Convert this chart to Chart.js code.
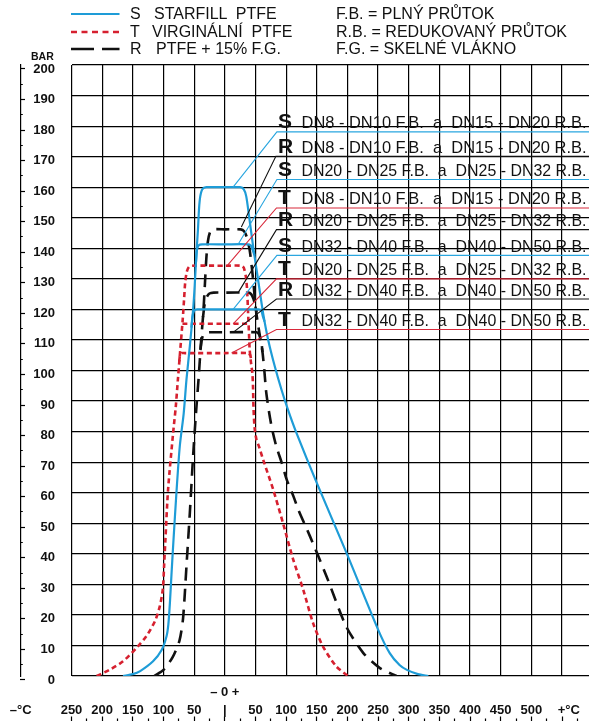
<!DOCTYPE html>
<html>
<head>
<meta charset="utf-8">
<script src="https://cdn.jsdelivr.net/npm/chart.js@4.4.1/dist/chart.umd.min.js"></script>
<style>
  body { margin: 0; background: #fff; }
  #wrap { position: relative; width: 589px; height: 721px; overflow: hidden;
          font-family: "Liberation Sans", Arial, sans-serif; color: #111; }
  #chart { position: absolute; left: 0; top: 0; }
  .lg { position: absolute; font-size: 16px; line-height: 16px; white-space: pre; }
  .bar { position: absolute; left: 31px; top: 50px; font-size: 10.5px; font-weight: bold; }
</style>
</head>
<body>
<div id="wrap">
  <canvas id="chart" width="589" height="721"></canvas>
  <svg width="130" height="60" style="position:absolute;left:0;top:0">
    <line x1="71" y1="14" x2="119.5" y2="14" stroke="#1E9CD7" stroke-width="2.2"/>
    <line x1="71" y1="32" x2="119.5" y2="32" stroke="#D6202F" stroke-width="2.6" stroke-dasharray="6 4.5"/>
    <line x1="71" y1="49" x2="119.5" y2="49" stroke="#111" stroke-width="2.6" stroke-dasharray="23 8"/>
  </svg>
  <div class="lg" style="left:130px;top:6px">S</div>
  <div class="lg" style="left:154px;top:6px">STARFILL  PTFE</div>
  <div class="lg" style="left:130px;top:24px">T</div>
  <div class="lg" style="left:152px;top:24px">VIRGINÁLNÍ  PTFE</div>
  <div class="lg" style="left:130px;top:41px">R</div>
  <div class="lg" style="left:156px;top:41px">PTFE + 15% F.G.</div>
  <div class="lg" style="left:336px;top:6px">F.B. = PLNÝ PRŮTOK</div>
  <div class="lg" style="left:336px;top:24px">R.B. = REDUKOVANÝ PRŮTOK</div>
  <div class="lg" style="left:336px;top:41px">F.G. = SKELNÉ VLÁKNO</div>
  <div class="bar">BAR</div>
</div>
<script>
// temperatures in °C, pressures in bar
const sDn8Temp = [-166, -150, -138, -117, -103, -95, -92, -89.5, -87, -84.3, -78.9, -73.4, -67, -62.5, -57, -52, -49, -46.2, -43.8, -42, -40, -36.5, -30, 0, 25, 31, 35, 39.7, 46.2, 54.3, 62.5, 70.7, 81.6, 92.5, 103, 117, 150, 198.5, 250, 269, 285, 297, 315, 332];
const sDn8Bar = [0, 0.6, 1.6, 4.8, 8.5, 13, 17, 24, 33, 42.4, 59.9, 75.2, 86, 97, 108, 119, 128, 138.5, 146, 153, 157, 159.4, 160, 160, 160, 159.3, 157, 150.4, 140.6, 129.7, 118.8, 110.1, 101.3, 93.7, 87.2, 79.5, 63.2, 40.3, 15.2, 7.5, 3.6, 2, 0.6, 0];
const sDn20Temp = [-47, -45.3, -42.5, -37, 0, 38, 42.5, 45.3, 48.3];
const sDn20Bar = [135.5, 139.5, 141, 141.3, 141.3, 141.3, 140.9, 139.5, 137.8];
const sDn32Temp = [-54.5, -52.8, -50, -45, 0, 55, 59.5, 62, 65];
const sDn32Bar = [114, 117.5, 119.6, 120, 120, 120, 119.6, 117.8, 116];

const tDn8Temp = [-209, -188, -166, -144, -128, -114, -106, -101, -99, -97, -92.5, -84.3, -80, -76.5, -74.5, -72.5, -70.5, -68.5, -66.5, -64.5, -62, -58.5, -53, 0, 27, 31, 34.3, 36.4, 38, 39.5, 40.5, 42.5, 45, 46, 46.8, 48.5, 51.5, 56, 62.6, 79, 95, 111, 128, 144, 160, 182, 201];
const tDn8Bar = [0, 2, 4.8, 9.2, 13, 17.9, 22.8, 28.5, 36, 44, 61, 79.5, 88, 97, 102, 107, 112, 117, 123, 129, 132.3, 133.9, 134.3, 134.3, 134.3, 133.6, 130.8, 126.4, 118.8, 112, 107, 103, 99, 95, 88, 81.5, 77.5, 75, 70.8, 61, 50, 38.5, 28.2, 17.3, 9.7, 3.1, 0];
const tDn20Temp = [-69, 38.8];
const tDn20Bar = [115.3, 115.3];
const tDn32Temp = [-74.3, -73, -70.5, -65, 0, 38.5, 41.5, 43.5];
const tDn32Bar = [103, 105, 105.7, 105.7, 105.7, 105.7, 105, 103];

const rDn8Temp = [-115, -100, -85, -74, -68.5, -65.5, -62.5, -57, -51.7, -47, -42.5, -38.5, -35, -32.5, -30, -27.5, -24, -19, 0, 26, 31.5, 36, 40.5, 44.5, 47.5, 50, 53.5, 57.5, 61.5, 64.5, 67.5, 72.5, 77.5, 84, 93, 101, 112, 120, 139, 166, 198, 226, 253, 280];
const rDn8Bar = [0, 2, 6.2, 11.5, 18, 26, 35.9, 53.4, 71.9, 86, 98, 110, 119, 128, 137, 142.3, 145.3, 146.2, 146.2, 146.2, 145.6, 143.6, 139.5, 133, 127, 121, 116, 111, 106, 100, 93, 86, 80.5, 75.2, 69.7, 64.3, 58.8, 54.4, 45.7, 32.6, 16.2, 7.5, 2.6, 0];
const rDn20Temp = [-35.5, -33, -29.5, -25, -18, 0, 38, 43, 47, 50, 51.8];
const rDn20Bar = [117.5, 121.5, 124, 125.2, 125.5, 125.5, 125.5, 125, 123.3, 121, 119];
const rDn32Temp = [-39.5, -38, -35.5, -31, -25, 0, 52, 56, 59.5, 61.5];
const rDn32Bar = [107, 109.5, 111.5, 112.3, 112.5, 112.5, 112.5, 111.8, 109.5, 106];

// label rows with leader lines (top to bottom)
const rowLetters = ['S', 'R', 'S', 'T', 'R', 'S', 'T', 'R', 'T'];
const rowTexts = [
  'DN8 - DN10 F.B.  a  DN15 - DN20 R.B.',
  'DN8 - DN10 F.B.  a  DN15 - DN20 R.B.',
  'DN20 - DN25 F.B.  a  DN25 - DN32 R.B.',
  'DN8 - DN10 F.B.  a  DN15 - DN20 R.B.',
  'DN20 - DN25 F.B.  a  DN25 - DN32 R.B.',
  'DN32 - DN40 F.B.  a  DN40 - DN50 R.B.',
  'DN20 - DN25 F.B.  a  DN25 - DN32 R.B.',
  'DN32 - DN40 F.B.  a  DN40 - DN50 R.B.',
  'DN32 - DN40 F.B.  a  DN40 - DN50 R.B.'
];
const leaderStartTemp = [13.5, 27, 21.8, 4, 21.8, 13.6, 13.6, 13.6, 11];
const leaderStartBar = [160, 147, 141.3, 134.3, 125.5, 120, 115.3, 112.5, 105.7];
const leaderRowBar = [178.1, 170.1, 162.5, 153.2, 146.1, 137.7, 130.0, 123.4, 113.4];
const leaderBendTemp = [85, 83.3, 85, 84.3, 84.3, 85, 84.3, 84.3, 84.3];
const leaderEndTemp = 600;

// axis tick values
const xTickValues = [-333, -250, -200, -150, -100, -50, 0, 50, 100, 150, 200, 250, 300, 350, 400, 450, 500, 550, 561];
const xMinorTicks = [-225, -175, -125, -75, -25, 25, 75, 125, 175, 225, 275, 325, 375, 425, 475, 525, 575];
const xMajorTicks = [-250, -200, -150, -100, -50, 0, 50, 100, 150, 200, 250, 300, 350, 400, 450, 500, 550];
const yLabelTicks = [0, 10, 20, 30, 40, 50, 60, 70, 80, 90, 100, 110, 120, 130, 140, 150, 160, 170, 180, 190, 200];
const yMinorTicks = [5, 15, 25, 35, 45, 55, 65, 75, 85, 95, 105, 115, 125, 135, 145, 155, 165, 175, 185, 195];

const BLUE = '#1E9CD7';
const RED = '#D6202F';
const BLACK = '#111111';
const FONT = '"Liberation Sans", Arial, sans-serif';

function pts(temps, bars) {
  return temps.map((t, i) => ({ x: t, y: bars[i] }));
}

const styles = {
  S: { borderColor: BLUE, borderWidth: 2.2, borderDash: [] },
  T: { borderColor: RED, borderWidth: 2.6, borderDash: [5, 3.5] },
  R: { borderColor: BLACK, borderWidth: 2.6, borderDash: [13, 8] }
};
const leaderColors = { S: '#2AA6DF', T: '#D8283A', R: '#111111' };

const datasets = [];
rowLetters.forEach((l, i) => {
  datasets.push({
    data: pts([leaderStartTemp[i], leaderBendTemp[i], leaderEndTemp], [leaderStartBar[i], leaderRowBar[i], leaderRowBar[i]]),
    borderColor: leaderColors[l], borderWidth: 1.1, tension: 0, pointRadius: 0
  });
});
[
  ['S', sDn8Temp, sDn8Bar], ['S', sDn20Temp, sDn20Bar], ['S', sDn32Temp, sDn32Bar],
  ['T', tDn8Temp, tDn8Bar], ['T', tDn20Temp, tDn20Bar], ['T', tDn32Temp, tDn32Bar],
  ['R', rDn8Temp, rDn8Bar], ['R', rDn20Temp, rDn20Bar], ['R', rDn32Temp, rDn32Bar]
].forEach(([k, t, b]) => {
  datasets.push(Object.assign({ data: pts(t, b), tension: 0.25, pointRadius: 0, borderCapStyle: 'butt' }, styles[k]));
});

const rowLabels = {
  id: 'rowLabels',
  afterDatasetsDraw(chart) {
    const { ctx, scales: { x, y } } = chart;
    ctx.save();
    ctx.fillStyle = '#111';
    ctx.textBaseline = 'alphabetic';
    ctx.textAlign = 'left';
    rowLetters.forEach((l, i) => {
      const py = y.getPixelForValue(leaderRowBar[i]) - 3.5;
      const px = x.getPixelForValue(85);
      ctx.font = 'bold 21px ' + FONT;
      ctx.fillText(l, px + 1.2, py);
      ctx.font = '17px ' + FONT;
      const w = ctx.measureText(rowTexts[i]).width;
      ctx.save();
      ctx.translate(px + 24.6, py);
      ctx.scale(285 / w, 1);
      ctx.fillText(rowTexts[i], 0, 0);
      ctx.restore();
    });
    ctx.restore();
  }
};

Chart.defaults.font.family = FONT;

new Chart(document.getElementById('chart'), {
  type: 'line',
  data: { datasets: datasets },
  plugins: [rowLabels],
  options: {
    responsive: false,
    animation: false,
    devicePixelRatio: 1,
    layout: { padding: { top: 65, left: 0, right: 0, bottom: 0 } },
    plugins: { legend: { display: false }, tooltip: { enabled: false } },
    scales: {
      x: {
        type: 'linear', min: -250, max: 594,
        afterBuildTicks: s => { s.ticks = xTickValues.map(v => ({ value: v })); },
        afterFit: s => { s.height = 45; },
        grid: {
          color: c => (c.tick && c.tick.value % 50 === 0) ? '#000' : 'rgba(0,0,0,0)',
          lineWidth: 1.2, drawTicks: false
        },
        border: { display: false },
        ticks: {
          autoSkip: false, maxRotation: 0, padding: 8, color: '#111',
          font: { size: 13, weight: 'bold', lineHeight: 1.33 },
          callback: v => {
            if (v === 0) return ['– 0 +', '|'];
            if (v === -333) return ['', '–°C'];
            if (v === 561) return ['', '+°C'];
            if (v === 550) return ['', ''];
            return ['', String(Math.abs(v))];
          }
        }
      },
      xMajor: {
        type: 'linear', position: 'bottom', weight: 1, min: -250, max: 594,
        afterBuildTicks: s => { s.ticks = xMajorTicks.map(v => ({ value: v })); },
        afterFit: s => { s.height = 0; },
        grid: { drawOnChartArea: false, tickLength: -4.5, tickColor: '#000', tickWidth: 1.2 },
        border: { display: false },
        ticks: { display: false }
      },
      xMinor: {
        type: 'linear', position: 'bottom', weight: 2, min: -250, max: 594,
        afterBuildTicks: s => { s.ticks = xMinorTicks.map(v => ({ value: v })); },
        afterFit: s => { s.height = 0; },
        grid: { drawOnChartArea: false, tickLength: -2.5, tickColor: '#000', tickWidth: 1.2 },
        border: { display: false },
        ticks: { display: false }
      },
      y: {
        type: 'linear', min: 0, max: 200,
        afterFit: s => { s.width = 51; },
        grid: { color: '#000', lineWidth: 1.2, drawTicks: false },
        border: { display: false },
        ticks: { stepSize: 10, display: false }
      },
      yMinor: {
        type: 'linear', position: 'left', weight: 1, min: 1.3, max: 201.3,
        afterBuildTicks: s => { s.ticks = yMinorTicks.map(v => ({ value: v })); },
        afterFit: s => { s.width = 0; },
        grid: { drawOnChartArea: false, tickLength: -2.3, tickColor: '#000', tickWidth: 1.2 },
        border: { display: false },
        ticks: { display: false }
      },
      yLabels: {
        type: 'linear', position: 'left', weight: 2, min: 1.3, max: 201.3,
        afterBuildTicks: s => { s.ticks = yLabelTicks.map(v => ({ value: v })); },
        afterFit: s => { s.width = 20.5; },
        grid: { drawOnChartArea: false, tickLength: -4.5, tickColor: '#000', tickWidth: 1.2 },
        border: { display: true, color: '#000', width: 1.2 },
        ticks: {
          mirror: true, crossAlign: 'far', padding: 12.8, color: '#111',
          font: { size: 13, weight: 'bold' },
          callback: v => String(v)
        }
      }
    }
  }
});
</script>
</body>
</html>
